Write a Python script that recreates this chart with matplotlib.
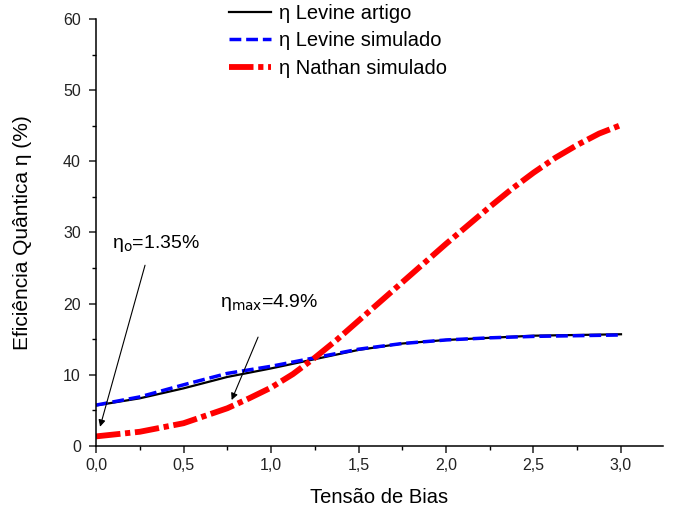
import numpy as np
import matplotlib
matplotlib.use('Agg')
import matplotlib.pyplot as plt
from matplotlib.ticker import MultipleLocator, FuncFormatter

plt.rcParams['font.family'] = ['Liberation Sans', 'DejaVu Sans']

# Quantum efficiency vs bias voltage
bias = [0.0, 0.25, 0.5, 0.75, 1.0, 1.25, 1.5, 1.75, 2.0, 2.25, 2.5, 2.75, 3.0]
levine_artigo = [5.7, 6.7, 8.1, 9.7, 10.9, 12.2, 13.5, 14.4, 14.9, 15.2, 15.5, 15.6, 15.7]
levine_simulado = [5.75, 6.9, 8.6, 10.2, 11.2, 12.4, 13.6, 14.4, 14.9, 15.2, 15.4, 15.5, 15.6]

bias_nathan = [0.0, 0.25, 0.5, 0.75, 0.875, 1.0, 1.125, 1.25, 1.375, 1.5, 1.75,
               2.0, 2.25, 2.375, 2.5, 2.625, 2.75, 2.875, 3.0]
nathan_simulado = [1.35, 2.0, 3.2, 5.3, 6.7, 8.2, 10.1, 12.4, 14.9, 17.6, 23.0,
                   28.4, 33.6, 36.1, 38.4, 40.5, 42.3, 43.9, 45.1]

fig = plt.figure(figsize=(6.83, 5.13), dpi=100)
ax = fig.add_axes([0.1406, 0.1306, 0.8301, 0.8324])

ax.plot(bias, levine_artigo, color='black', lw=1.6, label='η Levine artigo')
ax.plot(bias, levine_simulado, color='#0000ff', lw=2.5, dashes=(3.4, 1.4),
        label='η Levine simulado')
ax.plot(bias_nathan, nathan_simulado, color='#ff0000', lw=4.2,
        dashes=(4.2, 0.8, 0.9, 0.8), label='η Nathan simulado')

ax.set_xlim(0, 3.24)
ax.set_ylim(0, 60)
ax.xaxis.set_major_locator(MultipleLocator(0.5))
ax.xaxis.set_minor_locator(MultipleLocator(0.25))
ax.yaxis.set_major_locator(MultipleLocator(10))
ax.yaxis.set_minor_locator(MultipleLocator(5))
ax.xaxis.set_major_formatter(FuncFormatter(lambda v, p: f'{v:.1f}'.replace('.', ',')))

for side in ('top', 'right'):
    ax.spines[side].set_visible(False)
for side in ('left', 'bottom'):
    ax.spines[side].set_linewidth(1.1)
ax.tick_params(which='major', direction='out', length=5, width=1.1, labelsize=11.5,
               colors='#222222')
ax.tick_params(axis='y', which='major', pad=6)
ax.tick_params(which='minor', direction='out', length=3, width=1.0)

ax.set_xlabel('Tensão de Bias', fontsize=14.5, labelpad=11)
ax.set_ylabel('Eficiência Quântica η (%)', fontsize=15, labelpad=22)

# annotations with arrows
arrow = dict(arrowstyle='-|>', color='black', lw=0.8, mutation_scale=10,
             shrinkA=0, shrinkB=0)
ax.text(0.091, 27.8, 'η$_{\\rm o}$=1.35%', fontsize=14, ha='left', va='baseline')
ax.annotate('', xy=(0.023, 2.7), xytext=(0.28, 25.4), arrowprops=arrow)
ax.text(0.709, 19.6, 'η$_{\\rm max}$=4.9%', fontsize=14, ha='left', va='baseline')
ax.annotate('', xy=(0.775, 6.46), xytext=(0.926, 15.3), arrowprops=arrow)

leg = fig.legend(loc='upper left', bbox_to_anchor=(0.311, 1.024), frameon=False,
                 fontsize=14.5, handlelength=2.1, handletextpad=0.4,
                 labelspacing=0.42, borderpad=0.3)

fig.savefig('out.png', dpi=100)
